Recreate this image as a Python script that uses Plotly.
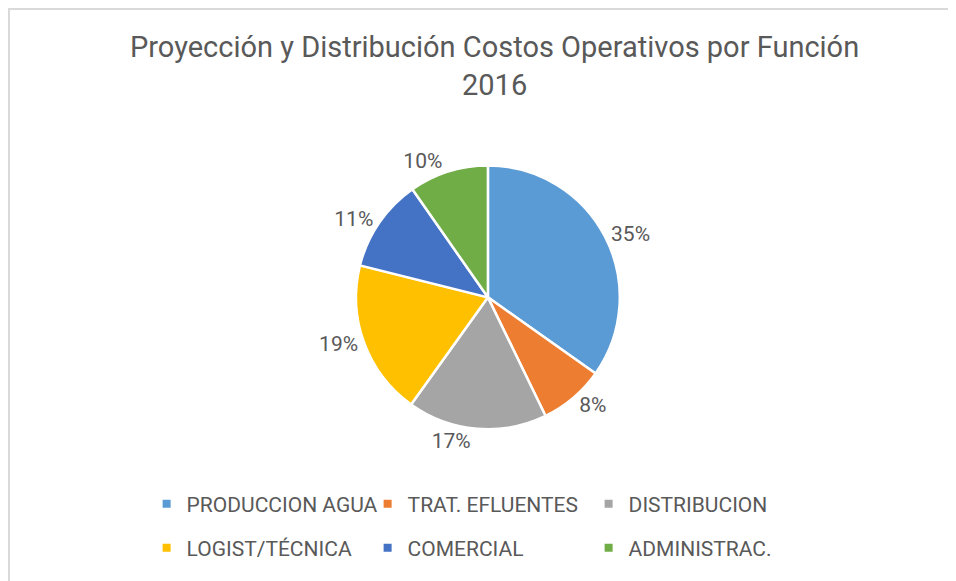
import plotly.graph_objects as go

categories = ["PRODUCCION AGUA", "TRAT. EFLUENTES", "DISTRIBUCION",
              "LOGIST/TÉCNICA", "COMERCIAL", "ADMINISTRAC."]
values = [34.8, 8.0, 17.1, 19.0, 11.4, 9.7]
colors = ["#5B9BD5", "#ED7D31", "#A5A5A5", "#FFC000", "#4472C4", "#70AD47"]

W, H = 956, 581
FONT = "Roboto, Liberation Sans, sans-serif"
GREY = "#595959"

fig = go.Figure()
fig.add_trace(go.Pie(
    labels=categories,
    values=values,
    sort=False,
    direction="clockwise",
    rotation=0,
    marker=dict(colors=colors, line=dict(color="white", width=2.5)),
    textposition="outside",
    texttemplate="%{percent:.0%}",
    textfont=dict(size=21, color=GREY, family=FONT),
    hoverinfo="label+percent",
    showlegend=False,
    domain=dict(x=[0.302, 0.702], y=[0.275, 0.729]),
))

# legend proxies (two rows of three, like the original)
for i, (name, col) in enumerate(zip(categories, colors)):
    fig.add_trace(go.Scatter(
        x=[None], y=[None], mode="markers", name=name,
        marker=dict(symbol="square", size=8, color=col),
        legend="legend" if i < 3 else "legend2",
        hoverinfo="skip",
    ))

leg_common = dict(
    orientation="h", xanchor="left", yanchor="middle",
    entrywidth=176, entrywidthmode="pixels",
    font=dict(size=21, color=GREY, family=FONT),
    itemwidth=30, bgcolor="rgba(0,0,0,0)",
)

fig.update_layout(
    width=W, height=H,
    margin=dict(l=0, r=0, t=0, b=0),
    paper_bgcolor="white",
    plot_bgcolor="white",
    xaxis=dict(visible=False),
    yaxis=dict(visible=False),
    title=dict(
        text="Proyección y Distribución Costos Operativos por Función<br>2016",
        x=0.509, xanchor="center", y=0.915, yanchor="top",
        font=dict(size=29, color=GREY, family=FONT),
    ),
    showlegend=True,
    legend=dict(x=0.145, y=1 - 496 / H, **leg_common),
    legend2=dict(x=0.145, y=1 - 540 / H, **leg_common),
    shapes=[dict(type="rect", xref="paper", yref="paper",
                 x0=1 / W, x1=1.02, y0=-0.02, y1=1 - 1 / H,
                 line=dict(color="#D9D9D9", width=2))],
)

fig.write_html("out.html")
